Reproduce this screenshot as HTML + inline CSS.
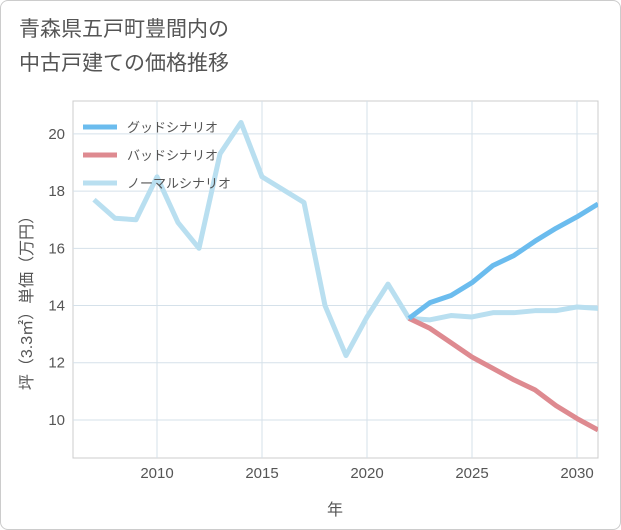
<!DOCTYPE html>
<html><head><meta charset="utf-8"><style>
body{margin:0;background:#fff;}
#wrap{position:relative;width:619px;height:528px;border:1px solid #ccc;border-radius:8px;overflow:hidden;font-family:"Liberation Sans","Noto Sans CJK JP",sans-serif;}
#title{position:absolute;left:18px;top:12px;font-size:21px;line-height:34px;color:#555;}
svg{position:absolute;left:0;top:0;}
</style></head><body>
<div id="wrap">
<div id="title">青森県五戸町豊間内の<br>中古戸建ての価格推移</div>
<svg id="c" width="621" height="530"></svg>
</div>
<script>
const years=[2007,2008,2009,2010,2011,2012,2013,2014,2015,2016,2017,2018,2019,2020,2021,2022,2023,2024,2025,2026,2027,2028,2029,2030,2031];
const normal=[17.7,17.05,17.0,18.5,16.9,16.0,19.3,20.4,18.5,18.05,17.6,14.0,12.25,13.6,14.75,13.55,13.5,13.65,13.6,13.75,13.75,13.82,13.82,13.95,13.9];
const fYears=[2022,2023,2024,2025,2026,2027,2028,2029,2030,2031];
const good=[13.55,14.1,14.35,14.8,15.4,15.75,16.25,16.7,17.1,17.55];
const bad=[13.55,13.2,12.7,12.2,11.8,11.4,11.05,10.5,10.05,9.65];
const xTicks=[2010,2015,2020,2025,2030];
const yTicks=[10,12,14,16,18,20];
const L=72,R=597,T=100,B=457;
const x=v=>L+(v-2006)*(R-L)/25;
const y=v=>B-(v-8.67)*(B-T)/(21.15-8.67);
const s=document.getElementById('c'),NS='http://www.w3.org/2000/svg';
function mk(t,a,p){const e=document.createElementNS(NS,t);for(const k in a)e.setAttribute(k,a[k]);(p||s).appendChild(e);return e;}
const gp=mk('g',{});


mk('rect',{x:L,y:T,width:R-L,height:B-T,fill:'none',stroke:'#ccc'},gp);
xTicks.forEach(t=>{mk('line',{x1:x(t),x2:x(t),y1:T,y2:B,stroke:'#d5e1ea'},gp);
const tx=mk('text',{x:x(t),y:477,'text-anchor':'middle','font-size':15,fill:'#555'});tx.textContent=t;

});
yTicks.forEach(t=>{mk('line',{x1:L,x2:R,y1:y(t),y2:y(t),stroke:'#d5e1ea'},gp);
const tx=mk('text',{x:64,y:y(t)+5,'text-anchor':'end','font-size':15,fill:'#555'});tx.textContent=t;

});
const cp=mk('clipPath',{id:'cp'});mk('rect',{x:L,y:T,width:R-L,height:B-T},cp);
function line(xs,ys,col,name){const p=mk('polyline',{points:xs.map((v,i)=>x(v)+','+y(ys[i])).join(' '),fill:'none',stroke:col,'stroke-width':5,'stroke-linejoin':'round','clip-path':'url(#cp)'});

}
line(years,normal,'#b9dff0','normal-scenario-line');
line(fYears,bad,'#de8a90','bad-scenario-line');
line(fYears,good,'#6bbcee','good-scenario-line');
const leg=[['グッドシナリオ','#6bbcee'],['バッドシナリオ','#de8a90'],['ノーマルシナリオ','#b9dff0']];
leg.forEach((l,i)=>{const g=mk('g',{});


mk('line',{x1:82,x2:116,y1:126+i*28,y2:126+i*28,stroke:l[1],'stroke-width':5},g);
const t=mk('text',{x:126,y:131+i*28,'font-size':13,fill:'#555'},g);t.textContent=l[0];});
const xt=mk('text',{x:334,y:514,'text-anchor':'middle','font-size':16,fill:'#555'});xt.textContent='年';


const yt=mk('text',{x:0,y:0,'text-anchor':'middle','font-size':16,fill:'#555',transform:'translate(31,298) rotate(-90)'});yt.textContent='坪（3.3㎡）単価（万円）';


</script>
</body></html>
